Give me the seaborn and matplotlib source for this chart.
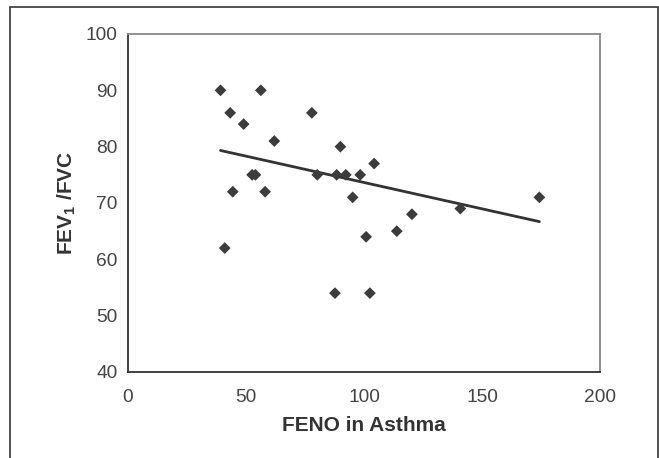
import numpy as np
import pandas as pd
import matplotlib
matplotlib.use('Agg')
import matplotlib.pyplot as plt
import seaborn as sns
from matplotlib.patches import Rectangle

# values
feno = [39.2, 43.3, 56.3, 49.0, 62.0, 77.9, 90.0, 104.3, 52.6, 54.0,
        44.4, 58.1, 80.2, 88.4, 92.3, 98.4, 95.2, 41.0, 100.9, 113.9,
        120.3, 140.8, 174.3, 87.7, 102.5]
fev_fvc = [90, 86, 90, 84, 81, 86, 80, 77, 75, 75,
           72, 72, 75, 75, 75, 75, 71, 62, 64, 65,
           68, 69, 71, 54, 54]
# trend line as drawn in the reference (not a plain OLS of the points above)
trend_intercept = 82.99
trend_slope = -0.0935
x_ticks = [0, 50, 100, 150, 200]
y_ticks = [40, 50, 60, 70, 80, 90, 100]

df = pd.DataFrame({'feno': feno, 'ratio': fev_fvc})
x_range = np.array([min(feno), max(feno)])
trend = pd.DataFrame({'feno': x_range, 'ratio': trend_intercept + trend_slope * x_range})

sns.set_theme(style='white')
plt.rcParams['font.family'] = ['Liberation Sans', 'DejaVu Sans']
plt.rcParams['mathtext.fontset'] = 'custom'
plt.rcParams['mathtext.rm'] = 'Liberation Sans:bold'

fig = plt.figure(figsize=(6.59, 4.58), dpi=100)
ax = fig.add_axes([0.1942, 0.1878, 0.7163, 0.7380])

sns.scatterplot(data=df, x='feno', y='ratio', ax=ax, marker='D', s=36,
                color='#3c3c3c', edgecolor='none', zorder=3)
sns.lineplot(data=trend, x='feno', y='ratio', ax=ax, color='#333333', lw=2.0)

ax.set_xlim(0, 200)
ax.set_ylim(40, 100)
ax.set_xticks(x_ticks)
ax.set_yticks(y_ticks)
ax.tick_params(direction='inout', length=9, width=1.0, color='#444444',
               labelsize=13.8, labelcolor='#444444')
ax.tick_params(axis='x', pad=8)
ax.tick_params(axis='y', pad=3)

for side in ['left', 'bottom']:
    ax.spines[side].set_color('#333333')
    ax.spines[side].set_linewidth(1.3)
for side in ['top', 'right']:
    ax.spines[side].set_color('#888888')
    ax.spines[side].set_linewidth(1.3)

ax.set_xlabel('FENO in Asthma', fontsize=15, fontweight='bold', color='#333333')
ax.set_ylabel(r'FEV$_\mathregular{1}$ /FVC', fontsize=15, fontweight='bold', color='#333333')
ax.xaxis.set_label_coords(0.5, -0.13)
ax.yaxis.set_label_coords(-0.105, 0.5)

# outer frame of the figure panel
fig.patches.append(Rectangle((10 / 659, -0.05), 648 / 659, 1 - 7 / 458 + 0.05,
                             transform=fig.transFigure, fill=False,
                             edgecolor='#333333', lw=1.2))

fig.savefig('out.png', dpi=100)
